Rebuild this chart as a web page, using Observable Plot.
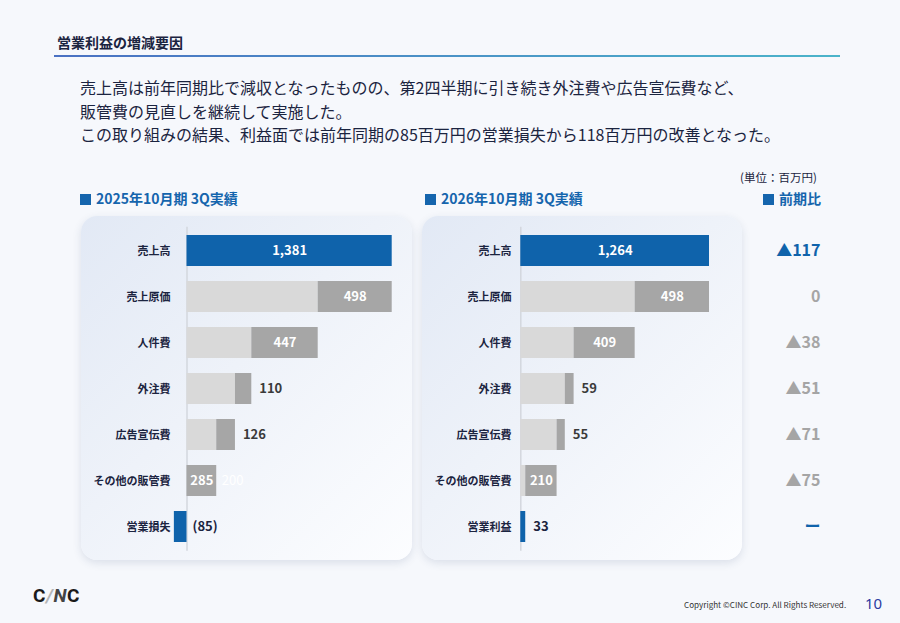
<!DOCTYPE html>
<html><head><meta charset="utf-8">
<script src="https://cdn.jsdelivr.net/npm/d3@7"></script>
<script src="https://cdn.jsdelivr.net/npm/@observablehq/plot@0.6"></script>
<style>
html,body{margin:0;padding:0;}
body{width:900px;height:623px;background:#f6f8fc;font-family:"Noto Sans CJK JP","Noto Sans",sans-serif;position:relative;overflow:hidden;color:#1b2440;}
.abs{position:absolute;}
#title{left:57px;top:33px;font-size:14px;font-weight:bold;color:#1b2440;line-height:18px;}
#rule{left:54px;top:55px;width:786px;height:2px;background:linear-gradient(90deg,#4a71c3,#4bb4ca);}
#para{left:80px;top:76px;font-size:16px;line-height:23.5px;color:#1b2440;}
.head{font-size:14px;font-weight:bold;color:#1565ad;line-height:18px;white-space:nowrap;}
.head .sq{display:inline-block;width:11px;height:11px;background:#1565ad;margin-right:5px;vertical-align:-1px;}
#unit{left:740px;top:170px;font-size:11.5px;color:#1b2440;line-height:14px;}
.card{top:216px;height:344px;border-radius:16px;background:linear-gradient(135deg,#e2e9f5 0%,#eef2f9 45%,#fcfdff 100%);box-shadow:0 3px 9px rgba(40,60,110,0.13);}
#logo{left:33px;top:586px;font-size:19px;font-weight:bold;letter-spacing:0.6px;line-height:20px;color:#1a1a1a;font-family:"Roboto","DejaVu Sans",sans-serif;}
#copy{left:684px;top:599px;font-size:8.1px;color:#333;line-height:12px;}
#page{left:865px;top:594px;font-size:15px;color:#2b3aa0;line-height:18px;font-family:"Noto Sans",sans-serif;}
</style></head><body>
<div class="abs" id="title">営業利益の増減要因</div>
<div class="abs" id="rule"></div>
<div class="abs" id="para">売上高は前年同期比で減収となったものの、第2四半期に引き続き外注費や広告宣伝費など、<br>販管費の見直しを継続して実施した。<br>この取り組みの結果、利益面では前年同期の85百万円の営業損失から118百万円の改善となった。</div>
<div class="abs" id="unit">(単位：百万円)</div>
<div class="abs head" style="left:80px;top:189px;"><span class="sq"></span>2025年10月期 3Q実績</div>
<div class="abs head" style="left:425px;top:189px;"><span class="sq"></span>2026年10月期 3Q実績</div>
<div class="abs head" style="left:763px;top:189px;"><span class="sq"></span>前期比</div>
<div class="abs card" style="left:81px;width:331px;"></div>
<div class="abs card" style="left:422px;width:320px;"></div>
<div class="abs" id="chart1" style="left:81px;top:216px;"></div>
<div class="abs" id="chart2" style="left:422px;top:216px;"></div>
<div class="abs" id="logo">C<span style="color:#b5b5b5;font-style:italic;">/</span><span style="color:#444;font-style:italic;">N</span>C</div>
<div class="abs" id="copy">Copyright ©CINC Corp. All Rights Reserved.</div>
<div class="abs" id="page">10</div>
<script>
const categories2025 = ["売上高","売上原価","人件費","外注費","広告宣伝費","その他の販管費","営業損失"];
const values2025 = [1381, 498, 447, 110, 126, 285, -85];
const categories2026 = ["売上高","売上原価","人件費","外注費","広告宣伝費","その他の販管費","営業利益"];
const values2026 = [1264, 498, 409, 59, 55, 210, 33];
const deltaLabels = ["▲117","0","▲38","▲51","▲71","▲75","ー"];

const BLUE = "#0f63ab", LIGHT = "#d9d9d9", DARK = "#a6a6a6", NAVY = "#1b2440", GRAYTXT = "#3a3a3a", DELTAGRAY = "#a5a5a5";
const fmt = d3.format(",");

function buildRows(cats, vals) {
  let run = 0;
  const n = cats.length;
  return cats.map((c, i) => {
    const v = vals[i];
    if (i === 0) { run = v; return {c, v, i, kind: "total", x1: 0, x2: v}; }
    if (i === n - 1) return {c, v, i, kind: "result", x1: Math.min(0, v), x2: Math.max(0, v)};
    const before = run, after = run - v; run = after;
    return {c, v, i, kind: "cost", before, after, light: Math.max(0, after), x1: Math.max(0, after), x2: before};
  });
}

function chart(cats, vals, opts) {
  const rows = buildRows(cats, vals);
  const costs = rows.filter(d => d.kind === "cost");
  const blues = rows.filter(d => d.kind !== "cost");
  const inside = costs.filter(d => d.x2 - d.x1 >= 150);
  const outside = costs.filter(d => d.x2 - d.x1 < 150);
  const clipped = costs.filter(d => d.after < 0);
  const result = rows.filter(d => d.kind === "result");
  const marks = [
    Plot.ruleX([0], {stroke: "#d3d7de", strokeWidth: 1.5}),
    Plot.barX(costs.filter(d => d.light > 0), {x1: 0, x2: "light", y: "c", fill: LIGHT}),
    Plot.barX(costs, {x1: "x1", x2: "x2", y: "c", fill: DARK}),
    Plot.barX(blues, {x1: "x1", x2: "x2", y: "c", fill: BLUE}),
    Plot.text(rows.filter(d => d.kind === "total"), {x: d => d.v / 2, y: "c", text: d => fmt(d.v), fill: "white", fontSize: 13, fontWeight: "bold"}),
    Plot.text(inside, {x: d => (d.x1 + d.x2) / 2, y: "c", text: d => fmt(d.v), fill: "white", fontSize: 13, fontWeight: "bold"}),
    Plot.text(clipped, {x: "x2", y: "c", dx: 5, text: d => fmt(d.before), textAnchor: "start", fill: "#ffffff", fontSize: 13}),
    Plot.text(outside, {x: "x2", y: "c", dx: 7.5, text: d => fmt(d.v), textAnchor: "start", fill: GRAYTXT, fontSize: 13, fontWeight: "bold"}),
    Plot.text(result, {x: "x2", y: "c", text: d => d.v < 0 ? `(${fmt(-d.v)})` : fmt(d.v), textAnchor: "start", fill: NAVY, fontSize: 13, fontWeight: "bold", dx: opts.resultDx}),
    Plot.text(rows, {x: 0, y: "c", text: "c", dx: opts.labelDx, textAnchor: "end", fill: NAVY, fontSize: 11, fontWeight: "bold"})
  ];
  if (opts.deltas) {
    marks.push(Plot.text(rows, {y: "c", text: (d, i) => opts.deltas[i], frameAnchor: "right", textAnchor: "end",
      fill: (d, i) => (i === 0 || i === rows.length - 1) ? BLUE : DELTAGRAY, fontSize: 16, fontWeight: "bold"}));
  }
  return Plot.plot({
    width: opts.width, height: 344,
    marginTop: 10.7, marginBottom: 9.3, marginLeft: 0, marginRight: opts.marginRight,
    style: {fontFamily: "'Noto Sans CJK JP', 'Noto Sans', sans-serif", background: "transparent", overflow: "visible"},
    x: {domain: [0, vals[0]], range: opts.xRange, axis: null},
    y: {domain: cats, range: [10.55, 334.65], paddingInner: 0.33, paddingOuter: 0.165, axis: null},
    marks
  });
}

document.getElementById("chart1").append(chart(categories2025, values2025, {width: 331, marginRight: 0, xRange: [105.5, 310.7], labelDx: -16.5, resultDx: 5.5}));
document.getElementById("chart2").append(chart(categories2026, values2026, {width: 408, marginRight: 10, xRange: [98.3, 287], labelDx: -9.3, resultDx: 7.5, deltas: deltaLabels}));
</script>
</body></html>
